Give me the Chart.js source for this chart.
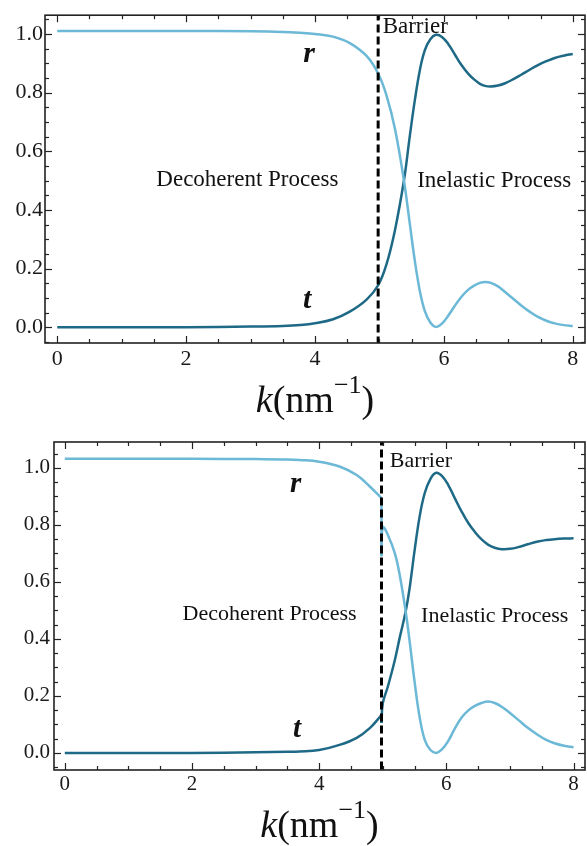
<!DOCTYPE html>
<html>
<head>
<meta charset="utf-8">
<script src="https://cdn.jsdelivr.net/npm/chart.js@4.4.1/dist/chart.umd.min.js"></script>
<style>
  body { margin: 0; background: #fff; }
  .box { position: absolute; left: 0; width: 587px; }
</style>
</head>
<body>
<div class="box" style="top:0;height:420px"><canvas id="topChart" width="587" height="420"></canvas></div>
<div class="box" style="top:420px;height:426px"><canvas id="bottomChart" width="587" height="426"></canvas></div>
<script>
// top panel, k in nm^-1
const kTop = [0, 1, 2, 3, 3.5, 3.77, 4, 4.28, 4.54, 4.8, 4.98, 5.11, 5.24, 5.38, 5.47, 5.55, 5.63, 5.705, 5.79, 5.876, 5.97, 6.07, 6.17, 6.27, 6.38, 6.48, 6.56, 6.64, 6.73, 6.84, 6.95, 7.08, 7.2, 7.33, 7.46, 7.6, 7.72, 7.86, 8]
const rTop = [1.01, 1.01, 1.01, 1.009, 1.007, 1.004, 1.0, 0.991, 0.969, 0.925, 0.865, 0.79, 0.678, 0.5, 0.355, 0.225, 0.12, 0.055, 0.016, 0.001, 0.012, 0.04, 0.073, 0.103, 0.128, 0.143, 0.151, 0.154, 0.151, 0.139, 0.12, 0.096, 0.074, 0.053, 0.035, 0.021, 0.013, 0.007, 0.004]
const tTop = [0, 0, 0, 0.002, 0.004, 0.007, 0.013, 0.027, 0.053, 0.094, 0.143, 0.215, 0.33, 0.5, 0.65, 0.775, 0.88, 0.945, 0.982, 0.997, 0.99, 0.965, 0.93, 0.895, 0.864, 0.843, 0.83, 0.823, 0.821, 0.824, 0.832, 0.846, 0.861, 0.878, 0.894, 0.908, 0.918, 0.926, 0.932]

// bottom panel, left of the barrier and right of it
const kBotL = [0, 1, 2, 3, 3.5, 3.69, 4, 4.32, 4.59, 4.8, 4.98]
const rBotL = [1.032, 1.032, 1.032, 1.031, 1.03, 1.028, 1.022, 1.005, 0.975, 0.934, 0.894]
const tBotL = [0, 0, 0, 0.002, 0.004, 0.005, 0.01, 0.028, 0.053, 0.088, 0.133]
const kBotR = [4.98, 5.0, 5.08, 5.19, 5.27, 5.36, 5.42, 5.5, 5.58, 5.66, 5.75, 5.84, 5.93, 6.03, 6.13, 6.24, 6.35, 6.45, 6.55, 6.66, 6.76, 6.87, 7.0, 7.13, 7.28, 7.44, 7.57, 7.7, 7.85, 8]
const rBotR = [0.69, 0.792, 0.765, 0.7, 0.62, 0.496, 0.396, 0.25, 0.125, 0.046, 0.01, 0.0, 0.012, 0.042, 0.084, 0.124, 0.15, 0.165, 0.175, 0.18, 0.175, 0.162, 0.14, 0.116, 0.088, 0.063, 0.046, 0.034, 0.025, 0.02]
const tBotR = [0.105, 0.174, 0.233, 0.326, 0.408, 0.496, 0.575, 0.71, 0.83, 0.912, 0.962, 0.983, 0.972, 0.94, 0.895, 0.847, 0.805, 0.775, 0.75, 0.73, 0.72, 0.715, 0.716, 0.722, 0.732, 0.742, 0.747, 0.75, 0.752, 0.753]

const barrierK = 4.98
const xTicks = [0, 2, 4, 6, 8]
const yTicks = [0, 0.2, 0.4, 0.6, 0.8, 1.0]

const rColor = '#6cb8d7'
const tColor = '#1e6a86'
const serif = '"Liberation Serif", "Times New Roman", serif'

Chart.defaults.font.family = serif
Chart.defaults.color = '#1a1a1a'

const pts = (ks, vs) => ks.map((k, i) => ({ x: k, y: vs[i] }))

const curve = (data, color) => ({
    data: data,
    borderColor: color,
    borderWidth: 2.5,
    pointRadius: 0,
    tension: 0.4,
    order: 1
})

const straight = (data, color) => ({
    data: data,
    borderColor: color,
    borderWidth: 2.5,
    pointRadius: 0,
    tension: 0,
    order: 1
})

const dashed = (yMin, yMax) => ({
    data: [{ x: barrierK, y: yMin }, { x: barrierK, y: yMax }],
    borderColor: '#000',
    borderWidth: 3,
    borderDash: [8, 4],
    pointRadius: 0,
    tension: 0,
    order: 0
})

// frame with inward ticks on all four sides, plus the text on the plot
const panelPlugin = {
    id: 'panel',
    afterDatasetsDraw(chart) {
        const { ctx, chartArea: a, scales: { x, y } } = chart
        const opt = chart.options.plugins.panel
        const line = (x1, y1, x2, y2) => { ctx.beginPath(); ctx.moveTo(x1, y1); ctx.lineTo(x2, y2); ctx.stroke() }
        ctx.save()
        ctx.strokeStyle = '#222'
        ctx.lineWidth = 1.6
        ctx.strokeRect(a.left, a.top, a.right - a.left, a.bottom - a.top)
        ctx.lineWidth = 1.2
        const steps = (min, max, step) => {
            const out = []
            for (let i = Math.ceil(min / step - 1e-9); i * step <= max + 1e-9; i++) out.push(i * step)
            return out
        }
        steps(x.min, x.max, 0.5).forEach(v => {
            const len = xTicks.some(m => Math.abs(m - v) < 1e-6) ? 7 : 4
            const p = Math.round(x.getPixelForValue(v)) + 0.5
            line(p, a.bottom, p, a.bottom - len)
            line(p, a.top, p, a.top + len)
        })
        steps(y.min, y.max, 0.05).forEach(v => {
            const len = yTicks.some(m => Math.abs(m - v) < 1e-6) ? 7 : 4
            const p = Math.round(y.getPixelForValue(v)) + 0.5
            line(a.left, p, a.left + len, p)
            line(a.right, p, a.right - len, p)
        })

        ctx.fillStyle = '#111'
        ctx.textBaseline = 'alphabetic'
        opt.notes.forEach(n => {
            ctx.font = n.font
            ctx.textAlign = n.align
            ctx.fillText(n.text, x.getPixelForValue(n.k), y.getPixelForValue(n.v))
        })

        // axis title k(nm^-1)
        const main = opt.titleSize + 'px ' + serif
        const sup = Math.round(opt.titleSize * 0.68) + 'px ' + serif
        const parts = [
            { s: 'k', f: 'italic ' + main, dy: 0 },
            { s: '(nm', f: main, dy: 0 },
            { s: '\u22121', f: sup, dy: -opt.titleSize * 0.5 },
            { s: ')', f: main, dy: 0 }
        ]
        let w = 0
        parts.forEach(p => { ctx.font = p.f; p.w = ctx.measureText(p.s).width; w += p.w })
        let cx = (a.left + a.right) / 2 - w / 2
        const by = a.bottom + opt.titleGap
        ctx.textAlign = 'left'
        parts.forEach(p => { ctx.font = p.f; ctx.fillText(p.s, cx, by + p.dy); cx += p.w })
        ctx.restore()
    }
}

const makePanel = (canvasId, datasets, cfg) => new Chart(document.getElementById(canvasId), {
    type: 'line',
    data: { datasets: datasets },
    plugins: [panelPlugin],
    options: {
        responsive: false,
        animation: false,
        devicePixelRatio: 1,
        layout: { padding: { top: cfg.padTop, right: 2, left: 0, bottom: 0 } },
        plugins: {
            legend: { display: false },
            tooltip: { enabled: false },
            panel: { notes: cfg.notes, titleSize: cfg.titleSize, titleGap: cfg.titleGap }
        },
        scales: {
            x: {
                type: 'linear',
                min: cfg.xMin, max: cfg.xMax,
                grid: { display: false, drawTicks: false },
                border: { display: false },
                afterBuildTicks: s => { s.ticks = xTicks.map(v => ({ value: v })) },
                afterFit: s => { s.height = cfg.xHeight },
                ticks: { font: { size: cfg.tickSize }, padding: cfg.xPad, maxRotation: 0, callback: v => String(v) }
            },
            y: {
                type: 'linear',
                min: cfg.yMin, max: cfg.yMax,
                grid: { display: false, drawTicks: false },
                border: { display: false },
                afterBuildTicks: s => { s.ticks = yTicks.map(v => ({ value: v })) },
                afterFit: s => { s.width = cfg.yWidth },
                ticks: { font: { size: cfg.tickSize }, padding: cfg.yPad, callback: v => v.toFixed(1) }
            }
        }
    }
})

makePanel('topChart', [
    dashed(-0.1, 1.2),
    curve(pts(kTop, rTop), rColor),
    curve(pts(kTop, tTop), tColor)
], {
    xMin: -0.19, xMax: 8.19, yMin: -0.054, yMax: 1.064,
    padTop: 10, xHeight: 77, yWidth: 45, tickSize: 22, xPad: 3, yPad: 2,
    titleSize: 38, titleGap: 69,
    notes: [
        { text: 'r', k: 3.91, v: 0.903, font: 'italic bold 30px ' + serif, align: 'center' },
        { text: 't', k: 3.88, v: 0.064, font: 'italic bold 30px ' + serif, align: 'center' },
        { text: 'Barrier', k: 5.05, v: 1.003, font: '23px ' + serif, align: 'left' },
        { text: 'Decoherent Process', k: 2.95, v: 0.483, font: '23px ' + serif, align: 'center' },
        { text: 'Inelastic Process', k: 6.78, v: 0.477, font: '23px ' + serif, align: 'center' }
    ]
})

const lastL = kBotL.length - 1
makePanel('bottomChart', [
    dashed(-0.1, 1.2),
    curve(pts(kBotL, rBotL), rColor),
    curve(pts(kBotR, rBotR), rColor),
    straight([{ x: barrierK, y: rBotL[lastL] }, { x: barrierK, y: rBotR[0] }], rColor),
    curve(pts(kBotL, tBotL), tColor),
    curve(pts(kBotR, tBotR), tColor),
    straight([{ x: barrierK, y: tBotL[lastL] }, { x: barrierK, y: tBotR[0] }], tColor)
], {
    xMin: -0.17, xMax: 8.18, yMin: -0.06, yMax: 1.091,
    padTop: 22, xHeight: 76, yWidth: 54, tickSize: 21, xPad: 2, yPad: 4,
    titleSize: 38, titleGap: 67,
    notes: [
        { text: 'r', k: 3.63, v: 0.916, font: 'italic bold 29px ' + serif, align: 'center' },
        { text: 't', k: 3.65, v: 0.056, font: 'italic bold 29px ' + serif, align: 'center' },
        { text: 'Barrier', k: 5.11, v: 1.004, font: '22px ' + serif, align: 'left' },
        { text: 'Decoherent Process', k: 3.22, v: 0.467, font: '22px ' + serif, align: 'center' },
        { text: 'Inelastic Process', k: 6.76, v: 0.461, font: '22px ' + serif, align: 'center' }
    ]
})
</script>
</body>
</html>
